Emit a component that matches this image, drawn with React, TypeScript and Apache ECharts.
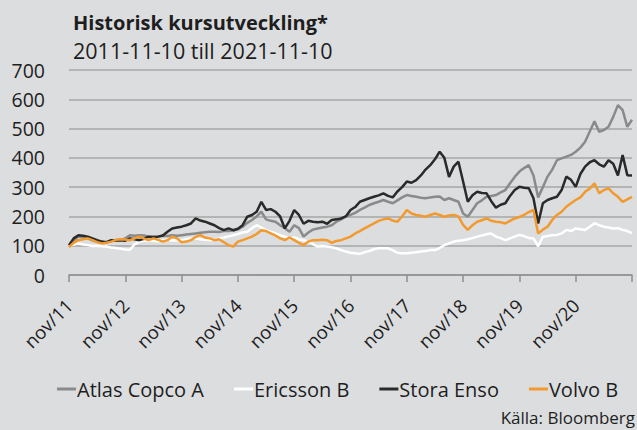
import React, { useEffect, useRef } from "react";
import * as echarts from "echarts";

const MONTHS = ["jan", "feb", "mar", "apr", "maj", "jun", "jul", "aug", "sep", "okt", "nov", "dec"];
const START_MONTH = 10; // nov
const START_YEAR = 11; // 2011
const N_MONTHS = 121;

const categories: string[] = [];
for (let i = 0; i < N_MONTHS; i++) {
  const k = START_MONTH + i;
  categories.push(`${MONTHS[k % 12]}/${String(START_YEAR + Math.floor(k / 12)).padStart(2, "0")}`);
}

const seriesNames = ["Atlas Copco A", "Ericsson B", "Stora Enso", "Volvo B"];

const atlasCopco = [
  100, 118, 131, 128, 125, 118, 114, 110, 112, 116, 119, 120,
  125, 136, 134, 136, 135, 131, 132, 131, 134, 133, 136, 134,
  136, 138, 140, 142, 144, 146, 148, 148, 147, 150, 150, 152,
  156, 165, 178, 188, 200, 216, 190, 185, 182, 170, 160, 148,
  170, 160, 131, 145, 155, 159, 162, 165, 170, 182, 190, 200,
  205, 212, 222, 230, 239, 245, 250, 256, 250, 245, 255, 265,
  273, 270, 267, 264, 262, 265, 267, 268, 256, 262, 256, 250,
  210, 199, 222, 245, 255, 267, 270, 273, 282, 290, 313, 335,
  353, 365, 375, 340, 265, 300, 336, 360, 392, 398, 404, 410,
  421, 435, 455, 490, 525, 489, 495, 506, 540, 580, 563, 506,
  530,
];

const ericsson = [
  100, 104, 108, 104, 102, 99, 100, 98, 97, 94, 92, 90,
  87, 86, 105, 114, 118, 119, 117, 115, 119, 120, 118, 119,
  119, 122, 125, 125, 122, 120, 119, 120, 125, 128, 132, 136,
  140, 145, 148, 160, 170, 162, 153, 148, 142, 136, 131, 125,
  128, 122, 119, 114, 105, 97, 99, 97, 95, 91, 85, 80,
  76, 74, 72, 78, 82, 88, 91, 91, 91, 85, 76, 74,
  74, 76, 78, 80, 82, 85, 85, 92, 102, 108, 114, 117,
  119, 122, 126, 131, 135, 139, 142, 131, 126, 119, 125, 131,
  137, 133, 126, 125, 98, 131, 133, 136, 137, 142, 154, 150,
  159, 156, 154, 165, 177, 170, 165, 162, 159, 160, 154, 150,
  143,
];

const storaEnso = [
  102, 125, 136, 134, 131, 125, 119, 114, 112, 119, 118, 119,
  117, 125, 122, 119, 124, 131, 128, 131, 135, 148, 159, 162,
  165, 170, 176, 193, 186, 182, 176, 170, 160, 153, 159, 153,
  158, 170, 199, 205, 216, 250, 222, 225, 216, 200, 159, 185,
  222, 205, 175, 185, 182, 180, 182, 175, 188, 190, 193, 200,
  222, 232, 250, 256, 262, 267, 272, 279, 270, 265, 285, 300,
  319, 315, 324, 340, 360, 375, 395, 421, 400, 335, 370, 387,
  319, 250, 272, 284, 280, 279, 252, 230, 240, 245, 270, 290,
  301, 298, 296, 262, 176, 245, 256, 262, 267, 290, 336, 325,
  301, 345, 370, 385, 392, 378, 370, 392, 380, 340, 410, 341,
  340,
];

const volvo = [
  95, 110, 119, 122, 125, 119, 112, 108, 110, 114, 120, 122,
  121, 119, 125, 131, 124, 119, 125, 120, 114, 119, 131, 125,
  112, 114, 119, 130, 136, 128, 125, 119, 122, 112, 102, 97,
  114, 119, 125, 131, 140, 153, 150, 142, 135, 125, 119, 128,
  119, 110, 102, 114, 119, 119, 120, 119, 110, 116, 119, 125,
  131, 142, 150, 159, 168, 176, 185, 190, 193, 186, 182, 200,
  222, 210, 205, 202, 199, 205, 210, 205, 199, 203, 205, 200,
  171, 154, 170, 182, 187, 193, 185, 182, 180, 176, 185, 193,
  198, 205, 215, 222, 142, 155, 165, 188, 205, 216, 233, 245,
  256, 265, 284, 295, 313, 279, 290, 296, 279, 267, 250, 258,
  267,
];

const seriesData = [atlasCopco, ericsson, storaEnso, volvo];
const seriesColors = ["#8a8a8a", "#ffffff", "#2a2a2a", "#f39a2e"];

const yTicks = { min: 0, max: 700, interval: 100 };

const TITLE = "Historisk kursutveckling*";
const SUBTITLE = "2011-11-10 till 2021-11-10";
const SOURCE = "Källa: Bloomberg";

const FONT = "'Open Sans', 'Noto Sans', sans-serif";
const TEXT = "#1e1e1e";

export default function App() {
  const ref = useRef<HTMLDivElement>(null);
  useEffect(() => {
    if (!ref.current) return;
    const chart = echarts.init(ref.current, undefined, { renderer: "svg" });
    chart.setOption({
      animation: false,
      backgroundColor: "#dcdddf",
      textStyle: { fontFamily: FONT },
      title: [
        {
          text: TITLE,
          left: 68,
          top: 7,
          textStyle: { fontFamily: FONT, fontSize: 20, fontWeight: "bold", color: TEXT },
        },
        {
          text: SUBTITLE,
          left: 68,
          top: 34,
          textStyle: { fontFamily: FONT, fontSize: 21.5, fontWeight: "normal", color: TEXT },
        },
        {
          text: SOURCE,
          right: 2,
          top: 409,
          padding: 0,
          textStyle: { fontFamily: FONT, fontSize: 17, fontWeight: "normal", color: TEXT },
        },
      ],
      legend: {
        left: 52,
        top: 374,
        itemWidth: 19,
        itemHeight: 3,
        itemGap: 30,
        icon: "rect",
        data: seriesNames,
        textStyle: { fontFamily: FONT, fontSize: 20, color: TEXT, padding: [0, 0, 0, -4] },
      },
      grid: { left: 69, right: 5, top: 70, bottom: 155, containLabel: false },
      xAxis: {
        type: "category",
        data: categories,
        boundaryGap: false,
        axisLine: { show: true, lineStyle: { color: "#8e8e8e", width: 1.5 } },
        axisTick: {
          show: true,
          length: 7,
          interval: (i: number) => i % 12 === 0,
          lineStyle: { color: "#8e8e8e", width: 1.5 },
        },
        axisLabel: {
          interval: (i: number) => i % 12 === 0 && i < N_MONTHS - 1,
          rotate: 45,
          margin: 27,
          fontFamily: FONT,
          fontSize: 18.5,
          color: TEXT,
        },
        splitLine: { show: false },
      },
      yAxis: {
        type: "value",
        min: yTicks.min,
        max: yTicks.max,
        interval: yTicks.interval,
        axisLine: { show: false },
        axisTick: { show: false },
        axisLabel: { margin: 24, fontFamily: FONT, fontSize: 19.5, color: TEXT },
        splitLine: { lineStyle: { color: "#a6a6a6", width: 1.5 } },
      },
      series: seriesNames.map((name, i) => ({
        name,
        type: "line",
        data: seriesData[i],
        showSymbol: false,
        symbol: "none",
        lineStyle: { color: seriesColors[i], width: 2.5 },
        itemStyle: { color: seriesColors[i] },
      })),
    });
    return () => chart.dispose();
  }, []);
  return (
    <div
      ref={ref}
      style={{ position: "fixed", left: 0, top: 0, width: 637, height: 430 }}
    />
  );
}
